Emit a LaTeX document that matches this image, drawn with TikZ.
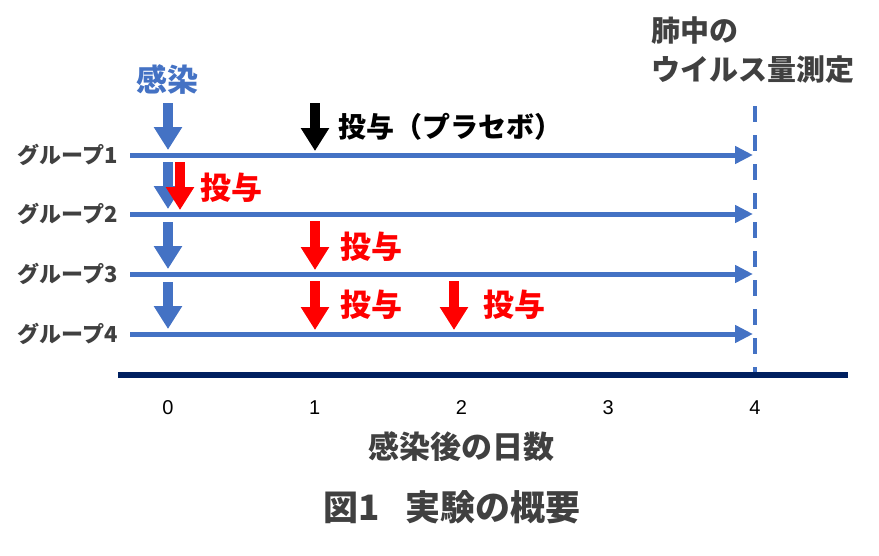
\documentclass[tikz,border=0pt]{standalone}
\usepackage{fontspec}
\setmainfont{Noto Sans CJK JP}
\newfontfamily\numfont{Liberation Sans}
\usetikzlibrary{arrows.meta,positioning}
\definecolor{lineblue}{HTML}{4472C4}
\definecolor{doseRed}{HTML}{FF0000}
\definecolor{axisnavy}{HTML}{002060}
\definecolor{textgray}{HTML}{404040}
\tikzset{
  grouplabel/.style={anchor=east, inner sep=0pt, text=textgray,
    font=\fontsize{22}{24}\selectfont\bfseries},
  timeline/.style={line width=5pt, draw=lineblue, -{Triangle[width=17pt,length=18pt]}},
  bigarr/.style={line width=10pt, -{Triangle[width=27pt,length=23pt]}},
  infarr/.style={bigarr, draw=lineblue},
  dosearr/.style={bigarr, draw=doseRed},
  placeboarr/.style={bigarr, draw=black},
  doselabel/.style={anchor=west, inner sep=0pt, text=doseRed,
    font=\fontsize{31}{34}\selectfont\bfseries},
  daylabel/.style={inner sep=0pt, font=\fontsize{20}{22}\selectfont\numfont},
  titlelabel/.style={inner sep=0pt, text=textgray, font=\fontsize{31}{34}\selectfont\bfseries}
}
\begin{document}
\begin{tikzpicture}[x=1pt, y=-1pt, node distance=8pt]
  \useasboundingbox (0,0) rectangle (879,555);
  % group rows
  \foreach \g/\y in {1/155, 2/214, 3/274, 4/334} {
    \coordinate (g\g s) at (130,\y);
    \coordinate (g\g e) at (753,\y);
    \node[grouplabel] (lab\g) at (118,\y) {グループ\g};
    \draw[timeline] (g\g s) -- (g\g e);
    \coordinate (inf\g top) at (168,\y-52);
    \coordinate (inf\g tip) at (168,\y-5);
    \draw[infarr] (inf\g top) -- (inf\g tip);
  }
  \node[inner sep=0pt, text=lineblue, font=\fontsize{31}{34}\selectfont\bfseries] (infect) at (167,80) {感染};
  % placebo
  \coordinate (pl top) at (315,103);
  \coordinate (pl tip) at (315,151);
  \draw[placeboarr] (pl top) -- (pl tip);
  \node[doselabel, text=black, font=\fontsize{28}{30}\selectfont\bfseries] (placebo) at (338,127) {投与（プラセボ）};
  % doses
  \coordinate (d2top) at (180,162);
  \coordinate (d2tip) at (180,210);
  \coordinate (d3top) at (315,221);
  \coordinate (d3tip) at (315,270);
  \coordinate (d4top) at (315,281);
  \coordinate (d4tip) at (315,330);
  \coordinate (d5top) at (454,281);
  \coordinate (d5tip) at (454,330);
  \foreach \d in {2,3,4,5} \draw[dosearr] (d\d top) -- (d\d tip);
  \node[doselabel] (dose2) at (200,188) {投与};
  \node[doselabel] (dose3) at (340,247) {投与};
  \node[doselabel] (dose4) at (340,305) {投与};
  \node[doselabel] (dose5) at (483,305) {投与};
  % measurement
  \coordinate (meas top) at (755,106);
  \coordinate (meas bot) at (755,372);
  \draw[lineblue, line width=3.5pt, dash pattern=on 16pt off 13pt] (meas top) -- (meas bot);
  \node[anchor=north west, align=left, inner sep=0pt, text=textgray,
    font=\fontsize{29}{39}\selectfont\bfseries] (lung) at (651,17) {肺中の\\ウイルス量測定};
  % axis
  \coordinate (axl) at (118,375);
  \coordinate (axr) at (848,375);
  \draw[axisnavy, line width=6pt] (axl) -- (axr);
  \foreach \d in {0,...,4}
    \node[daylabel] (day\d) at (168+146.75*\d,408) {\d};
  \node[titlelabel] (xlab) at (461,447) {感染後の日数};
  \node[titlelabel, font=\fontsize{35}{38}\selectfont\bfseries] (caption) at (452,507) {図1\hspace{26pt}実験の概要};
\end{tikzpicture}
\end{document}
